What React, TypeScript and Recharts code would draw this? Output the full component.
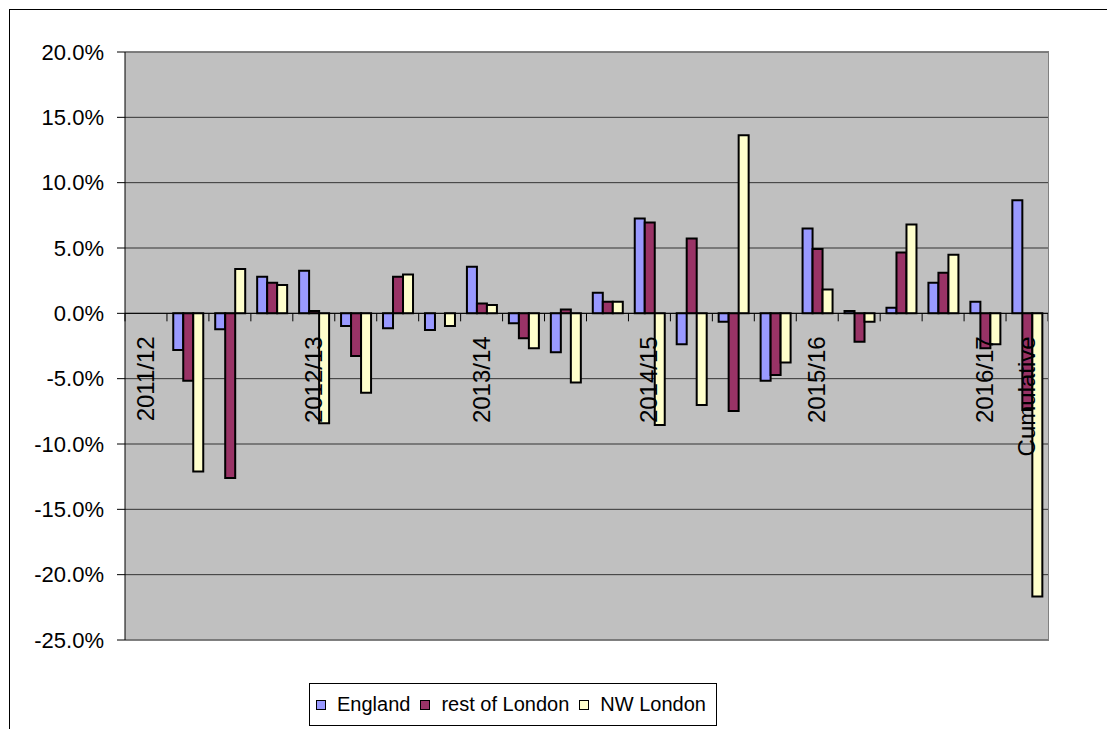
import { BarChart, Bar, XAxis, YAxis, CartesianGrid, ReferenceLine } from 'recharts';

// quarterly % change, one column per quarter plus the cumulative figure
const periodLabels = [
  '2011/12', '', '', '', '2012/13', '', '', '', '2013/14', '', '', '',
  '2014/15', '', '', '', '2015/16', '', '', '', '2016/17', 'Cumulative',
];

const england = [
  null, -2.8, -1.22, 2.8, 3.26, -0.97, -1.15, -1.28, 3.56, -0.76, -2.98,
  1.58, 7.26, -2.37, -0.64, -5.15, 6.5, 0.18, 0.43, 2.34, 0.89, 8.66,
];

const restOfLondon = [
  null, -5.15, -12.6, 2.34, 0.18, -3.26, 2.8, 0, 0.76, -1.91, 0.3,
  0.89, 6.96, 5.73, -7.47, -4.72, 4.92, -2.17, 4.66, 3.1, -2.68, -7.4,
];

const nwLondon = [
  null, -12.1, 3.39, 2.16, -8.41, -6.07, 2.98, -0.97, 0.63, -2.68, -5.3,
  0.89, -8.54, -7.01, 13.63, -3.77, 1.83, -0.64, 6.8, 4.48, -2.37, -21.67,
];

const yTicks = [-25, -20, -15, -10, -5, 0, 5, 10, 15, 20];

const series = [
  { key: 'england', name: 'England', color: '#9999FF' },
  { key: 'rest', name: 'rest of London', color: '#993366' },
  { key: 'nw', name: 'NW London', color: '#FFFFCC' },
];

const data = periodLabels.map((label, i) => ({
  period: label,
  england: england[i],
  rest: restOfLondon[i],
  nw: nwLondon[i],
}));

const FONT = "'Liberation Sans', Arial, sans-serif";

const CHART_W = 1100;
const CHART_H = 715;
const MARGIN = { top: 44, right: 60, bottom: 73, left: 0 };
const Y_AXIS_W = 117;
const X_AXIS_H = 10;
const PLOT_W = CHART_W - MARGIN.left - MARGIN.right - Y_AXIS_W;
const PLOT_H = CHART_H - MARGIN.top - MARGIN.bottom - X_AXIS_H;
const Y_MIN = yTicks[0];
const Y_MAX = yTicks[yTicks.length - 1];

// category labels sit under the zero line, rotated, with tick marks between quarters
const PeriodTick = (props: any) => {
  const { x, payload, index } = props;
  const zeroY = MARGIN.top + (PLOT_H * Y_MAX) / (Y_MAX - Y_MIN);
  const band = PLOT_W / periodLabels.length;
  const i = payload?.index ?? index;
  const label = periodLabels[i] ?? '';
  const last = i === periodLabels.length - 1;
  const lx = x + 8;
  const ly = zeroY + 23;
  return (
    <g>
      <line x1={x - band / 2} x2={x - band / 2} y1={zeroY} y2={zeroY + 8} stroke="#000" />
      {last && <line x1={x + band / 2} x2={x + band / 2} y1={zeroY} y2={zeroY + 8} stroke="#000" />}
      {label && (
        <text
          x={lx}
          y={ly}
          transform={`rotate(-90, ${lx}, ${ly})`}
          textAnchor="end"
          fontSize={24}
          fontFamily={FONT}
          fill="#000"
        >
          {label}
        </text>
      )}
    </g>
  );
};

const LegendBox = () => (
  <div
    style={{
      position: 'absolute',
      left: 301,
      top: 675,
      height: 41,
      display: 'flex',
      alignItems: 'center',
      border: '1px solid #000',
      background: '#fff',
      padding: '0 10px 0 6px',
      fontFamily: FONT,
      fontSize: 20,
      color: '#000',
      whiteSpace: 'nowrap',
    }}
  >
    {series.map((s, i) => (
      <div key={s.key} style={{ display: 'flex', alignItems: 'center', marginLeft: i === 0 ? 0 : 10 }}>
        <span
          style={{
            display: 'inline-block',
            width: 8,
            height: 8,
            border: '1px solid #000',
            background: s.color,
            marginRight: 11,
          }}
        />
        <span>{s.name}</span>
      </div>
    ))}
  </div>
);

export default function App() {
  return (
    <div style={{ position: 'relative', width: 1107, height: 721, overflow: 'hidden', background: '#fff' }}>
      <div
        style={{
          position: 'absolute',
          left: 1,
          top: 1,
          width: 1300,
          height: 900,
          borderTop: '1px solid #000',
          borderLeft: '1px solid #000',
        }}
      />
      <div style={{ position: 'absolute', left: 0, top: 0 }}>
        <BarChart
          width={CHART_W}
          height={CHART_H}
          data={data}
          margin={MARGIN}
          barCategoryGap="15%"
          barGap={0}
        >
          <CartesianGrid vertical={false} fill="#C0C0C0" stroke="#333" />
          <YAxis
            width={Y_AXIS_W}
            domain={[Y_MIN, Y_MAX]}
            ticks={yTicks}
            interval={0}
            tickFormatter={(v: number) => `${v.toFixed(1)}%`}
            tick={{ fontSize: 22, fontFamily: FONT, fill: '#000' }}
            axisLine={{ stroke: '#000' }}
            tickLine={{ stroke: '#000' }}
            tickSize={8}
            tickMargin={13}
          />
          {series.map((s) => (
            <Bar
              key={s.key}
              dataKey={s.key}
              name={s.name}
              fill={s.color}
              stroke="#000"
              strokeWidth={2}
              isAnimationActive={false}
            />
          ))}
          <ReferenceLine y={0} stroke="#000" strokeWidth={1} />
          <XAxis
            dataKey="period"
            height={X_AXIS_H}
            interval={0}
            axisLine={false}
            tickLine={false}
            tick={<PeriodTick />}
          />
        </BarChart>
      </div>
      {/* plot area frame */}
      <div
        style={{
          position: 'absolute',
          left: 117,
          top: 43,
          width: PLOT_W,
          height: PLOT_H,
          borderTop: '1px solid #808080',
          borderRight: '1px solid #808080',
          borderBottom: '1px solid #808080',
          pointerEvents: 'none',
        }}
      />
      <LegendBox />
    </div>
  );
}
